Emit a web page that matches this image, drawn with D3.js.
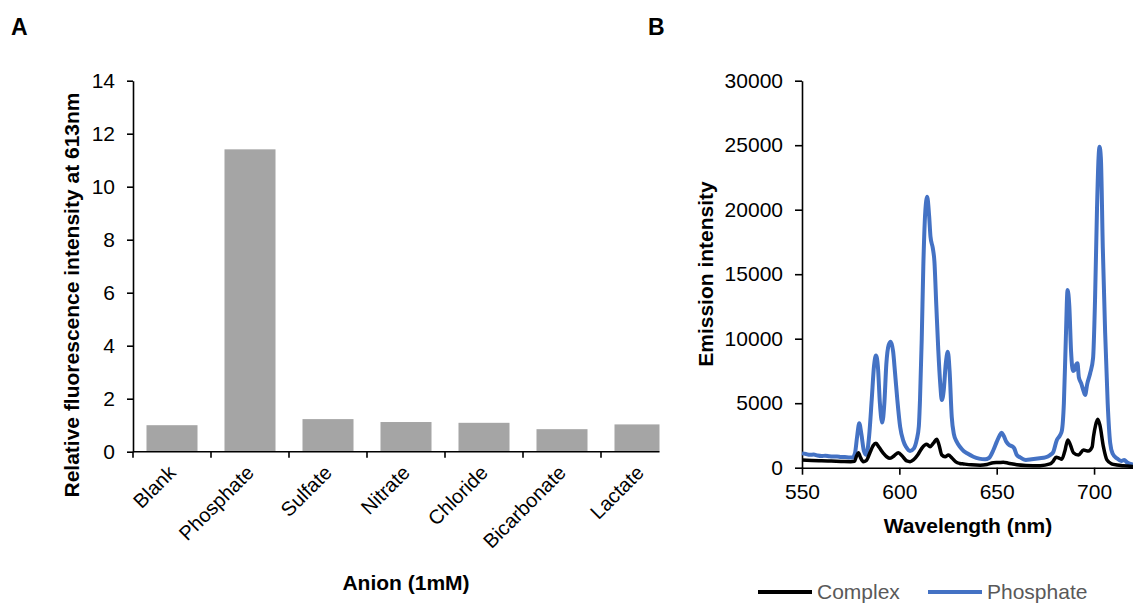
<!DOCTYPE html>
<html>
<head>
<meta charset="utf-8">
<script src="https://cdn.jsdelivr.net/npm/d3@7"></script>
<style>
  body { margin: 0; background: #fff; }
  svg { font-family: "Liberation Sans", Arial, sans-serif; }
  .axis path, .axis line { stroke: #000; stroke-width: 1.6px; }
  .axis text { fill: #000; font-size: 21px; }
  .title { font-weight: bold; font-size: 21px; fill: #000; }
  .panel { font-weight: bold; font-size: 23px; fill: #000; }
</style>
</head>
<body>
<svg id="chart" width="1133" height="603"></svg>
<script>
// Panel A: relative fluorescence at 613nm per anion
var anions = ["Blank", "Phosphate", "Sulfate", "Nitrate", "Chloride", "Bicarbonate", "Lactate"];
var relIntensity = [1.0, 11.41, 1.23, 1.12, 1.09, 0.85, 1.03];
var yTicksA = [0, 2, 4, 6, 8, 10, 12, 14];

// Panel B: emission spectra (wavelength nm, intensity)
var complexWl  = [550, 555, 560, 565, 570, 575, 577, 578, 579, 580, 581.5, 583, 585, 586.5, 588, 589.5, 591.8, 593.5, 595.2, 597.5, 599.5, 601.5, 603.8, 605.5, 607.2, 609.5, 611.5, 613, 614.1, 615.8, 617.5, 619.2, 620.3, 621.8, 623.5, 625.2, 627, 629, 631, 633, 637, 641.5, 645, 648.3, 651, 653.4, 656, 660.3, 665, 672.3, 677.4, 679, 680.5, 682, 683.4, 685, 686.5, 688, 689.4, 692, 694.6, 697.1, 699, 699.7, 700.8, 701.9, 703, 704.8, 706.6, 709, 711.7, 715, 720];
var complexVal = [600, 560, 530, 510, 490, 470, 500, 900, 1160, 800, 470, 550, 1200, 1700, 1890, 1600, 1120, 850, 730, 950, 1160, 900, 520, 470, 600, 1000, 1500, 1750, 1810, 1630, 1900, 2200, 1800, 980, 850, 980, 750, 450, 330, 290, 220, 190, 250, 390, 400, 420, 350, 230, 180, 160, 290, 500, 810, 750, 650, 1300, 2150, 1700, 1160, 980, 1370, 1290, 1600, 2400, 3300, 3750, 3300, 1630, 600, 300, 210, 150, 100];

var phosWl  = [550, 552, 554, 556, 558, 560, 562, 564, 566, 568, 570, 572, 574, 576, 577.2, 578.3, 579.4, 580.5, 581.8, 583, 584.5, 585.8, 587, 588, 589, 590, 591.2, 592.3, 593.3, 594.5, 595.6, 596.8, 597.8, 599, 600.4, 602, 603.5, 605.5, 607.5, 608.9, 610, 610.6, 611.5, 612.3, 613.3, 614.3, 615.3, 616, 617.2, 618, 619, 620, 621, 621.8, 622.8, 623.8, 624.9, 625.8, 626.9, 628, 629.5, 631.2, 633, 635, 638, 641, 644, 646, 648.3, 650, 651.5, 652.5, 653.5, 655, 656.5, 658, 659, 660.3, 662, 665, 668, 672, 675, 677.4, 679, 680.9, 682.5, 683.5, 684.5, 685.5, 686.4, 687.3, 688.2, 689.2, 690, 690.8, 691.5, 692.2, 693.4, 694.5, 695.4, 696.5, 698, 699.5, 700.5, 701.5, 702.3, 702.8, 703.5, 704.5, 705.7, 707, 708.3, 709.5, 711.7, 714, 715.5, 717, 720];
var phosVal = [1110, 1060, 1000, 1020, 940, 900, 930, 880, 860, 870, 830, 820, 800, 790, 1110, 2400, 3440, 2600, 1300, 1000, 2500, 5250, 7900, 8700, 7800, 5000, 3500, 5000, 8000, 9500, 9770, 9000, 7320, 5200, 3180, 2100, 1600, 1300, 1500, 2150, 3200, 5250, 10000, 15580, 19800, 21000, 19500, 17900, 17000, 16000, 12500, 9120, 6500, 5250, 6000, 8000, 8990, 7500, 3950, 2600, 2000, 1600, 1300, 1100, 850, 700, 650, 750, 1370, 2000, 2500, 2700, 2500, 2000, 1750, 1650, 1500, 1000, 800, 600, 650, 730, 800, 980, 1200, 2150, 2500, 2900, 5000, 10000, 13780, 12500, 9000, 7500, 7570, 8000, 8090, 7000, 6540, 6000, 5640, 6500, 7320, 8500, 13000, 20000, 24000, 24880, 24000, 17000, 10440, 5000, 1890, 1100, 730, 520, 600, 400, 250];
var yTicksB = [0, 5000, 10000, 15000, 20000, 25000, 30000];
var xTicksB = [550, 600, 650, 700];

var svg = d3.select("#chart");

// ---------- Panel A ----------
var xA = d3.scaleBand().domain(anions).range([133, 679]).paddingInner(0.346).paddingOuter(0.173);
var yA = d3.scaleLinear().domain([0, 14]).range([451.7, 80.7]);

svg.append("defs").append("clipPath").attr("id", "clipA")
    .append("rect").attr("x", 120).attr("y", 60).attr("width", 539.5).attr("height", 420);

var gA = svg.append("g").attr("clip-path", "url(#clipA)");

gA.selectAll("rect.bar")
    .data(anions)
    .enter().append("rect")
    .attr("class", "bar")
    .attr("x", function(d){ return xA(d); })
    .attr("width", xA.bandwidth())
    .attr("y", function(d, i){ return yA(relIntensity[i]); })
    .attr("height", function(d, i){ return yA(0) - yA(relIntensity[i]); })
    .attr("fill", "#a5a5a5");

// x axis line + boundary ticks
gA.append("line")
    .attr("x1", 133).attr("x2", 679)
    .attr("y1", yA(0)).attr("y2", yA(0))
    .attr("stroke", "#000").attr("stroke-width", 1.6);

var step = xA.step();
gA.selectAll("line.btick")
    .data(d3.range(anions.length + 1))
    .enter().append("line")
    .attr("class", "btick")
    .attr("x1", function(i){ return 133 + i * step; })
    .attr("x2", function(i){ return 133 + i * step; })
    .attr("y1", yA(0)).attr("y2", yA(0) + 6)
    .attr("stroke", "#000").attr("stroke-width", 1.6);

// category labels
svg.selectAll("text.cat")
    .data(anions)
    .enter().append("text")
    .attr("class", "cat")
    .attr("font-size", "20px")
    .attr("text-anchor", "end")
    .attr("transform", function(d){
        var cx = xA(d) + xA.bandwidth() / 2 + 5;
        return "translate(" + cx + ",474) rotate(-45)";
    })
    .text(function(d){ return d; });

svg.append("g")
    .attr("class", "axis")
    .attr("transform", "translate(133,0)")
    .call(d3.axisLeft(yA).tickValues(yTicksA).tickSize(6).tickPadding(12).tickSizeOuter(0));

svg.append("text").attr("class", "title")
    .attr("text-anchor", "middle")
    .attr("transform", "translate(79,295) rotate(-90)")
    .text("Relative fluorescence intensity at 613nm");

svg.append("text").attr("class", "title")
    .attr("text-anchor", "middle")
    .attr("x", 406).attr("y", 590)
    .text("Anion (1mM)");

svg.append("text").attr("class", "panel").attr("x", 11).attr("y", 35).text("A");

// ---------- Panel B ----------
var xB = d3.scaleLinear().domain([550, 720]).range([802, 1133]);
var yB = d3.scaleLinear().domain([0, 30000]).range([467.7, 80.7]);

svg.append("g")
    .attr("class", "axis")
    .attr("transform", "translate(802,0)")
    .call(d3.axisLeft(yB).tickValues(yTicksB).tickSize(7).tickPadding(12).tickSizeOuter(0).tickFormat(d3.format("d")));

svg.append("g")
    .attr("class", "axis")
    .attr("transform", "translate(0," + yB(0) + ")")
    .call(d3.axisBottom(xB).tickValues(xTicksB).tickSize(7).tickPadding(9).tickSizeOuter(0));

var line = d3.line()
    .x(function(d){ return xB(d[0]); })
    .y(function(d){ return yB(d[1]); })
    .curve(d3.curveMonotoneX);

var complexPts = complexWl.map(function(w, i){ return [w, complexVal[i]]; });
var phosPts = phosWl.map(function(w, i){ return [w, phosVal[i]]; });

svg.append("path")
    .datum(phosPts)
    .attr("d", line)
    .attr("fill", "none")
    .attr("stroke", "#4472c4")
    .attr("stroke-width", 4)
    .attr("stroke-linejoin", "round");

svg.append("path")
    .datum(complexPts)
    .attr("d", line)
    .attr("fill", "none")
    .attr("stroke", "#000")
    .attr("stroke-width", 3.5)
    .attr("stroke-linejoin", "round");

svg.append("text").attr("class", "title")
    .attr("text-anchor", "middle")
    .attr("transform", "translate(713,274) rotate(-90)")
    .text("Emission intensity");

svg.append("text").attr("class", "title")
    .attr("text-anchor", "middle")
    .attr("x", 968).attr("y", 533)
    .text("Wavelength (nm)");

svg.append("text").attr("class", "panel").attr("x", 648).attr("y", 35).text("B");

// legend
var legendItems = [
    { name: "Complex", color: "#000", x: 758 },
    { name: "Phosphate", color: "#4472c4", x: 928 }
];
var lg = svg.selectAll("g.legend")
    .data(legendItems)
    .enter().append("g")
    .attr("class", "legend")
    .attr("transform", function(d){ return "translate(" + d.x + ",592)"; });

lg.append("line")
    .attr("x1", 0).attr("x2", 54)
    .attr("stroke", function(d){ return d.color; })
    .attr("stroke-width", 4);

lg.append("text")
    .attr("x", 59).attr("y", 7)
    .attr("font-size", "21px")
    .attr("fill", "#595959")
    .text(function(d){ return d.name; });
</script>
</body>
</html>
